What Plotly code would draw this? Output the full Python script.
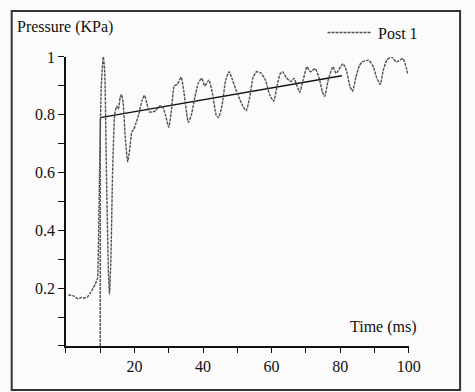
import plotly.graph_objects as go

# Post 1 measured pressure (dashed grey curve)
time_ms = [0.7, 1.5, 2.5, 3.5, 4.5, 5.5, 6.3, 7.2, 7.8, 8.6, 9.2, 9.4, 9.8, 10.3, 10.9,
           11.3, 11.8, 12.4, 12.7, 13.1, 13.6, 14.2, 14.8, 15.3, 15.8, 16.2, 16.7, 17.3,
           18.0, 18.6, 19.2, 19.8, 20.4, 21.2, 22.2, 22.9, 23.6, 24.3, 25.3, 26.2, 27.3,
           28.1, 29.0, 30.0, 30.8, 31.6, 32.5, 33.6, 34.4, 35.7, 36.6, 37.6, 38.6, 39.6,
           40.5, 41.7, 42.8, 43.8, 44.5, 45.5, 46.6, 47.6, 48.6, 49.5, 50.5, 51.6, 52.6,
           53.6, 54.6, 55.6, 57.0, 58.2, 59.4, 60.6, 61.6, 62.4, 63.2, 64.2, 65.6, 66.5,
           67.4, 68.2, 69.2, 70.3, 71.3, 72.7, 73.8, 74.8, 75.5, 76.5, 77.9, 78.8, 80.8,
           81.8, 82.8, 83.6, 84.6, 85.6, 86.5, 88.3, 89.7, 90.6, 91.7, 92.5, 93.6, 95.0,
           96.4, 98.3, 99.7]
pressure = [0.177, 0.175, 0.172, 0.163, 0.168, 0.166, 0.170, 0.185, 0.198, 0.215, 0.235, 0.30, 0.60, 0.90, 1.00,
            0.95, 0.60, 0.25, 0.18, 0.30, 0.60, 0.80, 0.83, 0.82, 0.86, 0.87, 0.84, 0.72,
            0.638, 0.68, 0.74, 0.75, 0.77, 0.80, 0.85, 0.867, 0.84, 0.81, 0.81, 0.815, 0.83,
            0.83, 0.80, 0.757, 0.82, 0.90, 0.905, 0.93, 0.88, 0.774, 0.80, 0.86, 0.91, 0.926,
            0.90, 0.92, 0.87, 0.80, 0.79, 0.83, 0.92, 0.949, 0.92, 0.89, 0.86, 0.83, 0.814,
            0.86, 0.93, 0.949, 0.943, 0.92, 0.87, 0.847, 0.90, 0.94, 0.949, 0.93, 0.915, 0.926,
            0.90, 0.878, 0.92, 0.966, 0.949, 0.96, 0.93, 0.88, 0.864, 0.92, 0.966, 0.943, 0.977,
            0.955, 0.90, 0.881, 0.93, 0.97, 0.983, 0.989, 0.966, 0.93, 0.905, 0.95, 0.989, 1.00,
            0.983, 0.994, 0.943]

# Onset step at t = 10 ms (dashed vertical)
step_time = [10, 10]
step_pressure = [0.0, 0.79]

# Solid reference line (linear rise)
ref_time = [10, 80.5]
ref_pressure = [0.79, 0.935]

x_tickvals = [0, 10, 20, 30, 40, 50, 60, 70, 80, 90, 100]
x_ticktext = ["", "", "20", "", "40", "", "60", "", "80", "", "100"]
y_tickvals = [0, 0.1, 0.2, 0.3, 0.4, 0.5, 0.6, 0.7, 0.8, 0.9, 1.0]
y_ticktext = ["", "", "0.2", "", "0.4", "", "0.6", "", "0.8", "", "1"]

W, H = 475, 392
FONT = "Liberation Serif, Times New Roman, Times, serif"
CURVE = dict(color="#505050", width=1.4, dash="3px,1px")

fig = go.Figure()
fig.add_trace(go.Scatter(x=step_time, y=step_pressure, mode="lines",
                         line=CURVE, showlegend=False))
fig.add_trace(go.Scatter(x=ref_time, y=ref_pressure, mode="lines",
                         line=dict(color="#111111", width=1.4), showlegend=False))
fig.add_trace(go.Scatter(x=time_ms, y=pressure, mode="lines", name="Post 1",
                         line=dict(**CURVE, shape="spline", smoothing=0.5),
                         showlegend=False))

fig.update_layout(
    width=W, height=H,
    margin=dict(l=0, r=0, t=0, b=0),
    paper_bgcolor="#fbfbfb", plot_bgcolor="rgba(0,0,0,0)",
    font=dict(family=FONT, size=16, color="#111111"),
    xaxis=dict(domain=[67.7 / W, 419.3 / W], range=[0, 100], showgrid=False, zeroline=False,
               showline=True, linecolor="#111111", linewidth=1.6,
               ticks="outside", ticklen=5, tickwidth=1.3, tickcolor="#111111",
               tickvals=x_tickvals, ticktext=x_ticktext, tickfont=dict(family=FONT, size=16)),
    yaxis=dict(domain=[(H - 345) / H, (H - 50) / H], range=[0, 1], showgrid=False, zeroline=False,
               showline=True, linecolor="#111111", linewidth=1.6,
               ticks="outside", ticklen=6, tickwidth=1.3, tickcolor="#111111",
               tickvals=y_tickvals, ticktext=y_ticktext, tickfont=dict(family=FONT, size=16)),
    shapes=[
        dict(type="rect", xref="paper", yref="paper", x0=12 / W, x1=472 / W,
             y0=(H - 390) / H, y1=(H - 3) / H, line=dict(color="#333333", width=2)),
        dict(type="line", xref="paper", yref="paper", x0=336 / W, x1=381 / W,
             y0=(H - 25) / H, y1=(H - 25) / H, line=CURVE),
    ],
    annotations=[
        dict(text="Pressure (KPa)", xref="paper", yref="paper", x=15 / W, y=(H - 19) / H,
             xanchor="left", yanchor="middle", showarrow=False, font=dict(family=FONT, size=16)),
        dict(text="Time (ms)", xref="paper", yref="paper", x=430 / W, y=(H - 326) / H,
             xanchor="right", yanchor="middle", showarrow=False, font=dict(family=FONT, size=16)),
        dict(text="Post 1", xref="paper", yref="paper", x=386 / W, y=(H - 26) / H,
             xanchor="left", yanchor="middle", showarrow=False, font=dict(family=FONT, size=16)),
    ],
)

fig.write_html("out.html")
